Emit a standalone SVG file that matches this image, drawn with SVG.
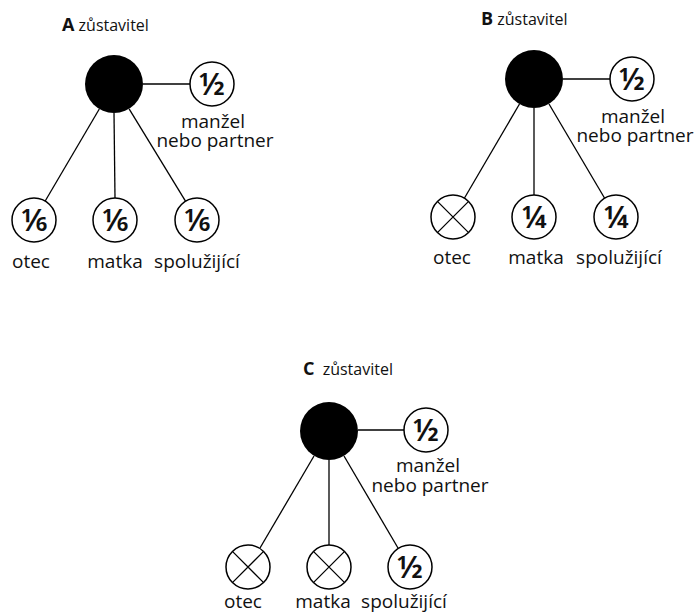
<svg xmlns="http://www.w3.org/2000/svg" width="697" height="614" viewBox="0 0 697 614">
<style>
.bg{fill:#fff}
.dec{fill:#000}
.heir{fill:#fff;stroke:#000;stroke-width:1.5}
.x{stroke:#000;stroke-width:1.3;fill:none}
.conn line{stroke:#000;stroke-width:1.3}
.lbl{font-family:"Open Sans","Noto Sans","DejaVu Sans",sans-serif;font-size:19px;fill:#111;text-anchor:middle}
.ttl{font-family:"Open Sans","Noto Sans","DejaVu Sans",sans-serif;font-size:16px;fill:#111}
.frac{font-family:"Noto Sans","DejaVu Sans",sans-serif;font-size:31px;font-weight:600;fill:#111;text-anchor:middle}
</style>
<rect class="bg" x="0" y="0" width="697" height="614"/>

<!-- Diagram A -->
<g id="titleA"><text class="ttl" x="62" y="31"><tspan font-weight="bold" font-size="18">A</tspan> zůstavitel</text></g>
<g id="connA" class="conn">
<line x1="143" y1="84" x2="190" y2="84"/>
<line x1="99.3" y1="109" x2="45.2" y2="201"/>
<line x1="114" y1="113" x2="115" y2="198"/>
<line x1="129.1" y1="108.8" x2="185.5" y2="201.2"/>
</g>
<g id="A_zustavitel"><circle class="dec" cx="114" cy="84" r="29"/></g>
<g id="A_manzel"><circle class="heir" cx="212" cy="84" r="22"/><text class="frac" x="212" y="95">½</text>
<text class="lbl"><tspan x="213" y="128">manžel</tspan><tspan x="215" y="147">nebo partner</tspan></text></g>
<g id="A_otec"><circle class="heir" cx="34" cy="220" r="22"/><text class="frac" x="34" y="231">⅙</text><text class="lbl" x="31" y="268">otec</text></g>
<g id="A_matka"><circle class="heir" cx="115" cy="220" r="22"/><text class="frac" x="115" y="231">⅙</text><text class="lbl" x="115" y="268">matka</text></g>
<g id="A_spoluzijici"><circle class="heir" cx="197" cy="220" r="22"/><text class="frac" x="197" y="231">⅙</text><text class="lbl" x="197" y="268">spolužijící</text></g>

<!-- Diagram B -->
<g id="titleB"><text class="ttl" x="481" y="25"><tspan font-weight="bold" font-size="18">B</tspan> zůstavitel</text></g>
<g id="connB" class="conn">
<line x1="563" y1="79" x2="610" y2="79"/>
<line x1="519.5" y1="104" x2="464.5" y2="198"/>
<line x1="534" y1="108" x2="534" y2="195"/>
<line x1="549" y1="104" x2="604.5" y2="198"/>
</g>
<g id="B_zustavitel"><circle class="dec" cx="534" cy="79" r="29"/></g>
<g id="B_manzel"><circle class="heir" cx="632" cy="79" r="22"/><text class="frac" x="632" y="90">½</text>
<text class="lbl"><tspan x="633" y="123">manžel</tspan><tspan x="635" y="142">nebo partner</tspan></text></g>
<g id="B_otec"><circle class="heir" cx="453" cy="217" r="22"/><path class="x" d="M437.4 201.4L468.6 232.6M468.6 201.4L437.4 232.6"/><text class="lbl" x="452" y="264">otec</text></g>
<g id="B_matka"><circle class="heir" cx="534" cy="217" r="22"/><text class="frac" x="534" y="228">¼</text><text class="lbl" x="536" y="264">matka</text></g>
<g id="B_spoluzijici"><circle class="heir" cx="616" cy="217" r="22"/><text class="frac" x="616" y="228">¼</text><text class="lbl" x="619" y="264">spolužijící</text></g>

<!-- Diagram C -->
<g id="titleC"><text class="ttl" x="303" y="375"><tspan font-weight="bold" font-size="18">C</tspan><tspan dx="4"> zůstavitel</tspan></text></g>
<g id="connC" class="conn">
<line x1="358" y1="430" x2="404" y2="430"/>
<line x1="314" y1="456" x2="260" y2="548"/>
<line x1="329" y1="460" x2="329" y2="545"/>
<line x1="344" y1="456" x2="398" y2="548"/>
</g>
<g id="C_zustavitel"><circle class="dec" cx="329" cy="431" r="29"/></g>
<g id="C_manzel"><circle class="heir" cx="426" cy="430" r="22"/><text class="frac" x="426" y="441">½</text>
<text class="lbl"><tspan x="428" y="472">manžel</tspan><tspan x="430" y="492">nebo partner</tspan></text></g>
<g id="C_otec"><circle class="heir" cx="248" cy="567" r="22"/><path class="x" d="M232.4 551.4L263.6 582.6M263.6 551.4L232.4 582.6"/><text class="lbl" x="243" y="608">otec</text></g>
<g id="C_matka"><circle class="heir" cx="329" cy="567" r="22"/><path class="x" d="M313.4 551.4L344.6 582.6M344.6 551.4L313.4 582.6"/><text class="lbl" x="323" y="608">matka</text></g>
<g id="C_spoluzijici"><circle class="heir" cx="410" cy="567" r="22"/><text class="frac" x="410" y="578">½</text><text class="lbl" x="404" y="608">spolužijící</text></g>
</svg>
